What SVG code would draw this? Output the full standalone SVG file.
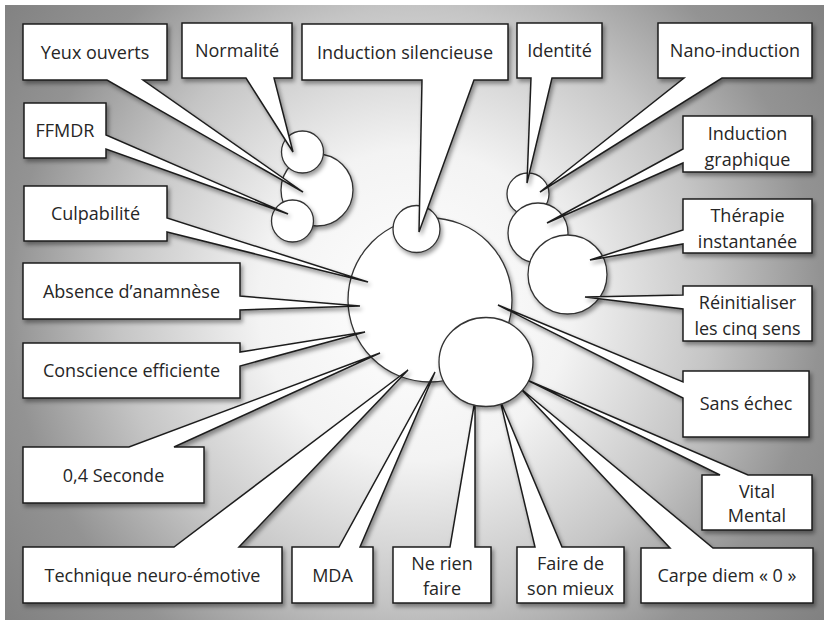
<svg xmlns="http://www.w3.org/2000/svg" width="824" height="623" viewBox="0 0 824 623">
<defs>
<radialGradient id="bg" gradientUnits="userSpaceOnUse" cx="415" cy="305" r="520">
<stop offset="0" stop-color="#ffffff"/>
<stop offset="0.3" stop-color="#f3f3f3"/>
<stop offset="0.57" stop-color="#c5c5c5"/>
<stop offset="0.78" stop-color="#939393"/>
<stop offset="1" stop-color="#808080"/>
</radialGradient>
<filter id="sh" x="-20%" y="-20%" width="150%" height="150%">
<feDropShadow dx="2" dy="3" stdDeviation="2" flood-color="#000" flood-opacity="0.4"/>
</filter>
<style>
.co{fill:#fff;stroke:#1e1e1e;stroke-width:1.5;stroke-linejoin:miter;filter:url(#sh)}
.ci{fill:#fff;stroke:#333;stroke-width:1.3;filter:url(#sh)}
text{font-family:"Open Sans","Liberation Sans",sans-serif;font-size:18px;fill:#262626;text-anchor:middle}
</style>
</defs>
<rect x="0" y="0" width="824" height="623" fill="#ffffff"/>
<rect x="5" y="5" width="819" height="615" fill="url(#bg)"/>

<g id="bubbles">
<circle id="c-yeux" class="ci" cx="317" cy="190" r="36"/>
<circle id="c-normalite" class="ci" cx="302.5" cy="152" r="21"/>
<circle id="c-ffmdr" class="ci" cx="292.5" cy="221" r="21"/>
<circle id="c-centre" class="ci" cx="430" cy="300" r="82"/>
<circle id="c-silence" class="ci" cx="416.5" cy="229" r="23.5"/>
<circle id="c-identite" class="ci" cx="528" cy="194" r="21"/>
<circle id="c-graphique" class="ci" cx="538" cy="233" r="30"/>
<circle id="c-therapie" class="ci" cx="567.5" cy="274.5" r="39.5"/>
</g>

<g id="callouts">
<g id="yeux-ouverts"><path class="co" d="M23,24 H167 V80 H143 L303,192 L107,80 H23 Z"/><text x="95" y="59">Yeux ouverts</text></g>
<g id="normalite"><path class="co" d="M182,23 H292 V78 H274 L293,152 L246,78 H182 Z"/><text x="237" y="57">Normalité</text></g>
<g id="induction-silencieuse"><path class="co" d="M302,24 H508 V80 H474 L419,232 L422,80 H302 Z"/><text x="405" y="59">Induction silencieuse</text></g>
<g id="identite"><path class="co" d="M517,23 H602 V78 H552 L527,183 L531,78 H517 Z"/><text x="559.5" y="57">Identité</text></g>
<g id="nano-induction"><path class="co" d="M658,23 H812 V78 H722 L540,192 L684,78 H658 Z"/><text x="735" y="57">Nano-induction</text></g>
<g id="induction-graphique"><path class="co" d="M683,116 H812 V172 H683 V163 L547,223 L683,149 Z"/><text x="747.5" y="140">Induction</text><text x="747.5" y="166">graphique</text></g>
<g id="therapie-instantanee"><path class="co" d="M683,199 H812 V253 H683 V244 L590,260 L683,230 Z"/><text x="747.5" y="222">Thérapie</text><text x="747.5" y="248">instantanée</text></g>
<g id="reinitialiser"><path class="co" d="M683,286 H812 V341 H683 V309 L585,297 L683,295 Z"/><text x="747.5" y="309">Réinitialiser</text><text x="747.5" y="335">les cinq sens</text></g>
<g id="sans-echec"><path class="co" d="M683,371 H809 V437 H683 V398 L498,305 L683,382 Z"/><text x="746" y="410">Sans échec</text></g>
<g id="culpabilite"><path class="co" d="M24,186 H167 V218 L368,282 L167,232 V241 H24 Z"/><text x="95.5" y="220">Culpabilité</text></g>
<g id="ffmdr"><path class="co" d="M24,103 H106 V135 L288,214 L106,149 V158 H24 Z"/><text x="65" y="137">FFMDR</text></g>
<g id="absence-anamnese"><path class="co" d="M23,263 H240 V296 L360,306 L240,310 V319 H23 Z"/><text x="131.5" y="298">Absence d’anamnèse</text></g>
<g id="conscience-efficiente"><path class="co" d="M23,343 H240 V352 L365,332 L240,366 V398 H23 Z"/><text x="131.5" y="377">Conscience efficiente</text></g>
<g id="seconde"><path class="co" d="M23,447 H129 L380,353 L174,447 H204 V503 H23 Z"/><text x="113.5" y="482">0,4 Seconde</text></g>
<g id="technique"><path class="co" d="M23,547 H174 L408,370 L239,547 H282 V603 H23 Z"/><text x="152.5" y="582">Technique neuro-émotive</text></g>
<g id="mda"><path class="co" d="M292,547 H339 L435,372 L360,547 H373 V603 H292 Z"/><text x="332.5" y="582">MDA</text></g>
<g id="ne-rien-faire"><path class="co" d="M393,547 H450 L475,400 L475,547 H491 V603 H393 Z"/><text x="442" y="570">Ne rien</text><text x="442" y="595">faire</text></g>
<g id="faire-mieux"><path class="co" d="M517,547 H535 L500,400 L562,547 H624 V603 H517 Z"/><text x="570.5" y="570">Faire de</text><text x="570.5" y="595">son mieux</text></g>
<g id="carpe-diem"><path class="co" d="M641,548 H670 L520,388 L713,548 H813 V603 H641 Z"/><text x="727" y="582">Carpe diem « 0 »</text></g>
<g id="vital-mental"><path class="co" d="M702,475 H720 L527,380 L748,475 H812 V530 H702 Z"/><text x="757" y="498">Vital</text><text x="757" y="522">Mental</text></g>
</g>

<g id="bubble-top">
<ellipse id="c-medium" class="ci" cx="486" cy="362" rx="47" ry="44.5"/>
</g>
</svg>
